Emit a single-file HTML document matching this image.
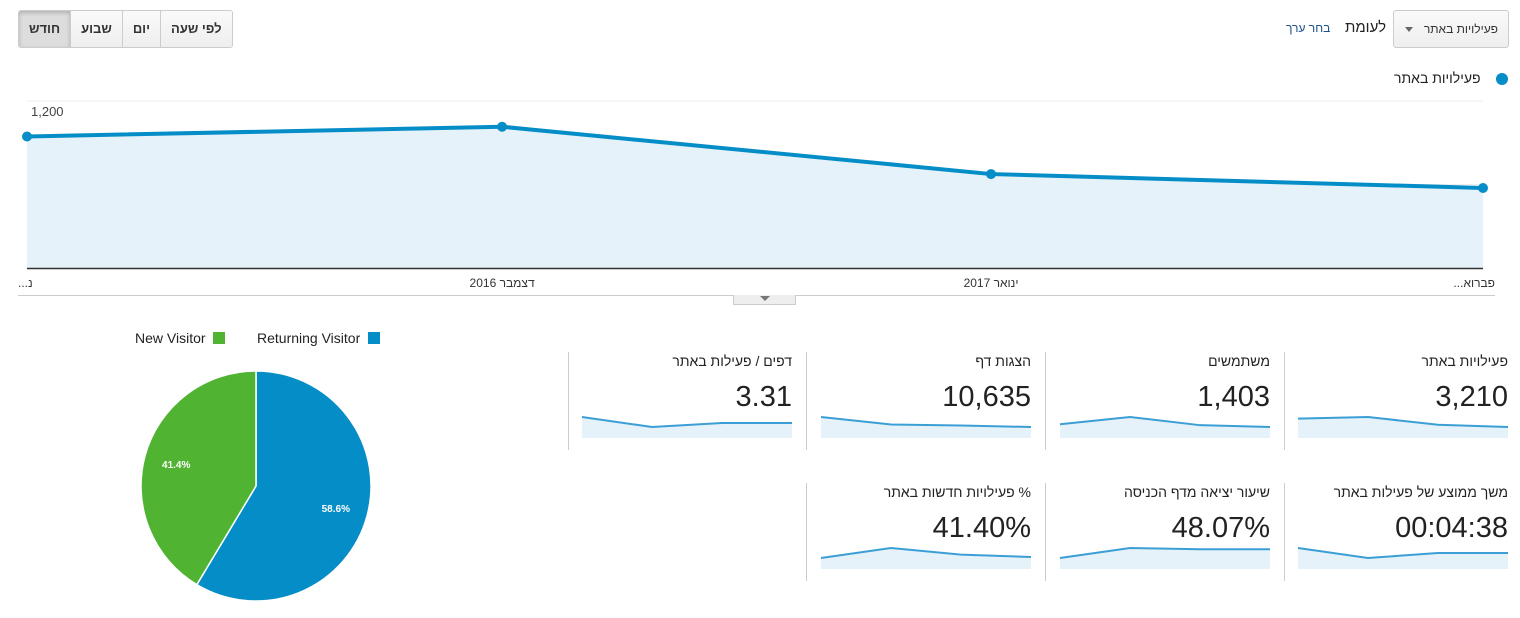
<!DOCTYPE html>
<html><head><meta charset="utf-8">
<style>
body{margin:0;width:1520px;height:618px;background:#fff;font-family:"Liberation Sans","DejaVu Sans",sans-serif;color:#222;position:relative;overflow:hidden}
.a{position:absolute}
.btns{left:18px;top:10px;height:36px;display:flex;border:1px solid #ccc;border-radius:3px;overflow:hidden}
.btns div{font-size:13px;font-weight:bold;color:#333;padding:0 10px;line-height:36px;background:linear-gradient(#fafafa,#eee);border-left:1px solid #ccc}
.btns div:first-child{border-left:none;background:#ddd;box-shadow:inset 0 2px 4px rgba(0,0,0,.2)}
.tl{font-size:14px;color:#222;direction:rtl;text-align:right}
.tv{font-size:29px;color:#222;text-align:right}
.vd{width:1px;background:#ccc}
</style></head><body>
<div class="a btns">
<div>חודש</div>
<div>שבוע</div>
<div>יום</div>
<div>לפי שעה</div>
</div>
<div class="a" style="left:1393px;top:10px;width:114px;height:36px;border:1px solid #ccc;border-radius:3px;background:linear-gradient(#fafafa,#eee);font-size:12px;line-height:36px;direction:rtl;color:#333"><span style="margin-right:10px">פעילויות באתר</span><span style="position:absolute;left:11px;top:16px;width:0;height:0;border-left:4px solid transparent;border-right:4px solid transparent;border-top:5px solid #666"></span></div>
<div class="a" style="left:1345px;top:19px;font-size:15px">לעומת</div>
<div class="a" style="left:1286px;top:21px;font-size:12px;color:#1a4f8b">בחר ערך</div>
<div class="a" style="left:1394px;top:70px;font-size:14px;direction:rtl">פעילויות באתר</div>
<div class="a" style="left:1496px;top:73px;width:12px;height:12px;border-radius:6px;background:#058dc7"></div>

<svg class="a" style="left:0;top:0" width="1520" height="618">
<g id="main"></g><g id="pie"></g><g id="sparks"></g>
</svg>
<div class="a" style="left:18px;top:295px;width:1477px;height:1px;background:#ccc"></div>
<div class="a" style="left:733px;top:295px;width:61px;height:9px;background:#eee;border:1px solid #ccc;border-top:none"><span style="position:absolute;left:26px;top:1px;border-left:5px solid transparent;border-right:5px solid transparent;border-top:5px solid #777"></span></div>

<div class="a" style="left:135px;top:330px;font-size:14px">New Visitor <span style="display:inline-block;width:12px;height:12px;background:#50b432;vertical-align:-1px;margin-left:4px"></span></div>
<div class="a" style="left:257px;top:330px;font-size:14px">Returning Visitor <span style="display:inline-block;width:12px;height:12px;background:#058dc7;vertical-align:-1px;margin-left:4px"></span></div>

<div id="tiles"></div>

<script>
const NS="http://www.w3.org/2000/svg";
const months=["נובמבר 2016","דצמבר 2016","ינואר 2017","פברואר 2017"];
const sessions=[945,1015,675,575];
const yTicks=[600,1200];
const pieLabels=["Returning Visitor","New Visitor"];
const pieValues=[58.6,41.4];
const tileLabels=["פעילויות באתר","משתמשים","הצגות דף","דפים / פעילות באתר","משך ממוצע של פעילות באתר","שיעור יציאה מדף הכניסה","% פעילויות חדשות באתר"];
const tileValues=["3,210","1,403","10,635","3.31","00:04:38","48.07%","41.40%"];
const sparkUsers=[330,410,320,300];
const sparkPageviews=[3300,2550,2450,2300];
const sparkPps=[3.45,3.2,3.3,3.3];
const sparkDuration=[300,240,270,270];
const sparkBounce=[46,50,49.5,49.5];
const sparkNew=[40,43,41,40.3];

function el(t,a,p){const e=document.createElementNS(NS,t);for(const k in a)e.setAttribute(k,a[k]);p.appendChild(e);return e;}
// main chart
const main=document.getElementById('main');
const x0=27,x1=1483,yb=268;
const X=i=>x0+(x1-x0)*[0,0.3263,0.6621,1][i];
const Y=v=>yb-v/600*83.5;
yTicks.forEach(t=>{const g=el('line',{x1:x0,x2:x1,y1:Y(t),y2:Y(t),stroke:'#eee'},main);
const tx=el('text',{x:31,y:Y(t)+15,'font-size':13,fill:'#444'},main);tx.textContent=t.toLocaleString('en-US');});
let pts=sessions.map((v,i)=>X(i)+','+Y(v)).join(' ');
const area=el('polygon',{points:x0+','+yb+' '+pts+' '+x1+','+yb,fill:'#e5f2f9'},main);

const ln=el('polyline',{points:pts,fill:'none',stroke:'#058dc7','stroke-width':4},main);

sessions.forEach((v,i)=>{const c=el('circle',{cx:X(i),cy:Y(v),r:5,fill:'#058dc7'},main);});
el('line',{x1:x0,x2:x1,y1:yb+0.5,y2:yb+0.5,stroke:'#333','stroke-width':1.5},main);
[["...נ",18,'start'],[months[1],X(1),'middle'],[months[2],X(2),'middle'],["...פברוא",1495,'end']].forEach(([s,x,a])=>{const t=el('text',{x:x,y:287,'font-size':12,fill:'#333','text-anchor':a,direction:a==='middle'?'rtl':'ltr'},main);t.textContent=s;});
// pie
const pie=document.getElementById('pie');
const cx=256,cy=486,r=115,cols=['#058dc7','#50b432'];
let tot=pieValues.reduce((a,b)=>a+b,0),ang=0;
pieValues.forEach((v,i)=>{const a0=ang,a1=ang+v/tot*2*Math.PI;ang=a1;
const p=(a)=>[cx+r*Math.sin(a),cy-r*Math.cos(a)];const [sx,sy]=p(a0),[ex,ey]=p(a1);
const s=el('path',{d:`M${cx},${cy}L${sx},${sy}A${r},${r} 0 ${a1-a0>Math.PI?1:0} 1 ${ex},${ey}Z`,fill:cols[i],stroke:'#fff','stroke-width':1.5},pie);

const m=(a0+a1)/2,lx=cx+r*0.72*Math.sin(m),ly=cy-r*0.72*Math.cos(m);
const t=el('text',{x:lx,y:ly+4,'font-size':10,'font-weight':'bold',fill:'#fff','text-anchor':'middle'},pie);t.textContent=v.toFixed(1)+'%';});
// tiles
const sp=document.getElementById('sparks'),tiles=document.getElementById('tiles');
const sparks=[sessions,sparkUsers,sparkPageviews,sparkPps,sparkDuration,sparkBounce,sparkNew];
const rights=[1508,1270,1031,792],divs=[1284,1045,806,568];
tileLabels.forEach((lab,i)=>{const row=i<4?0:1,col=i%4+(row?0:0);const c=row?i-4:i;const top=row?483:352;
const R=rights[c],L=R-210;
const d=document.createElement('div');d.className='a vd';d.style.cssText=`left:${divs[c]}px;top:${top}px;height:${row?98:98}px`;tiles.appendChild(d);
const l=document.createElement('div');l.className='a tl';l.style.cssText=`right:${1520-R}px;top:${top+1}px`;l.textContent=lab;tiles.appendChild(l);
const v=document.createElement('div');v.className='a tv';v.style.cssText=`right:${1520-R}px;top:${top+29}px`;v.textContent=tileValues[i];tiles.appendChild(v);
const data=sparks[i],mx=Math.max(...data),mn=Math.min(...data),st=top+65,bt=top+86;
const sx=k=>L+k*210/(data.length-1),sy=val=>st+(mx-val)/(mx-mn||1)*10;
const pp=data.map((val,k)=>sx(k)+','+sy(val)).join(' ');
const a=el('polygon',{points:`${L},${bt} ${pp} ${R},${bt}`,fill:'#e5f2f9'},sp);
const pl=el('polyline',{points:pp,fill:'none',stroke:'#3b9fd6','stroke-width':2},sp);
});
</script>
</body></html>
